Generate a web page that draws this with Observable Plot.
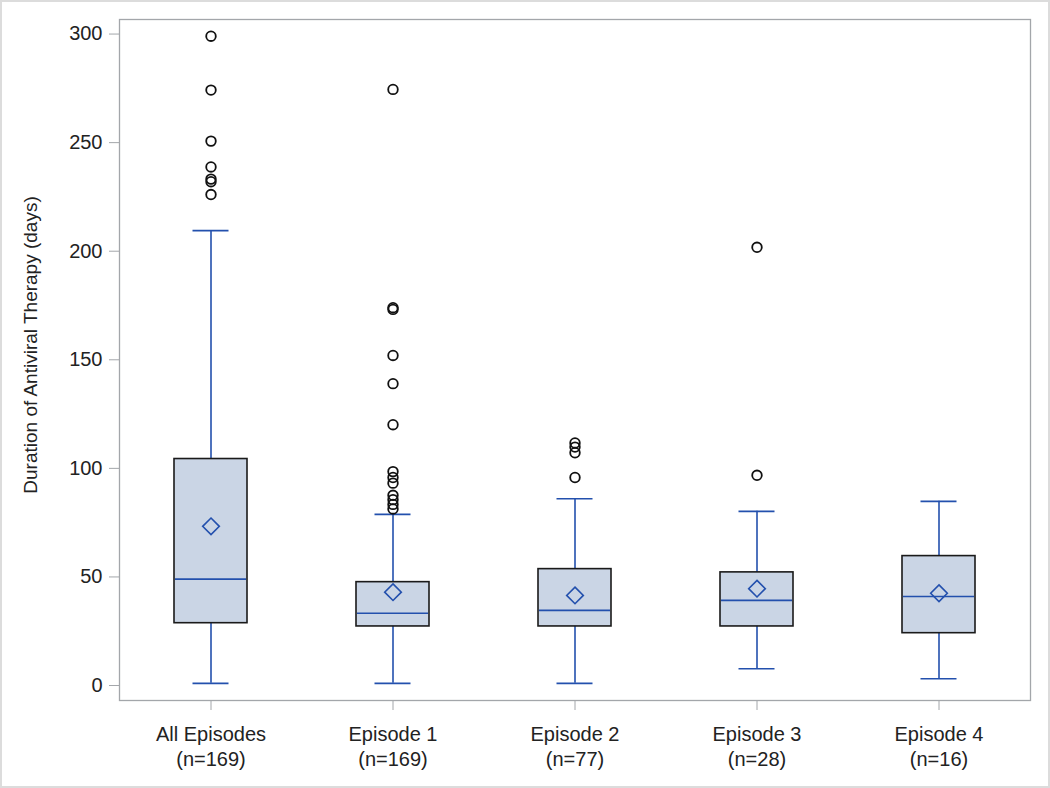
<!DOCTYPE html>
<html>
<head>
<meta charset="utf-8">
<script src="https://cdn.jsdelivr.net/npm/d3@7"></script>
<script src="https://cdn.jsdelivr.net/npm/@observablehq/plot@0.6"></script>
<style>
  html, body { margin: 0; padding: 0; background: #fff; }
  #chart svg { display: block; outline: 2px solid #dcdcdc; outline-offset: -2px; }
</style>
</head>
<body>
<div id="chart"></div>
<script>
const categories = ["All Episodes", "Episode 1", "Episode 2", "Episode 3", "Episode 4"];
const counts = [169, 169, 77, 28, 16];
const q1 = [28.7, 27.2, 27.2, 27.2, 24.1];
const median = [49, 33.3, 34.6, 39.2, 41];
const q3 = [104.3, 47.6, 53.6, 52.1, 59.6];
const mean = [73.3, 43, 41.5, 44.6, 42.5];
const whiskerLow = [1, 1, 1, 7.7, 3.1];
const whiskerHigh = [209.5, 78.8, 86, 80.2, 84.8];
const outliers = [
  [299, 274.2, 250.7, 238.8, 233.2, 232, 226.1],
  [274.5, 174, 173.2, 152, 139, 120.1, 98.5, 95.8, 93.2, 87.6, 85.6, 83.4, 81.3],
  [111.7, 109.8, 107.2, 95.8],
  [201.8, 96.8],
  []
];
const yTicks = [0, 50, 100, 150, 200, 250, 300];

const boxes = categories.map((c, i) => ({
  cat: c, q1: q1[i], med: median[i], q3: q3[i], mean: mean[i],
  lo: whiskerLow[i], hi: whiskerHigh[i]
}));
const outlierPts = categories.flatMap((c, i) => outliers[i].map(v => ({cat: c, v})));
const labelOf = c => c + "\n(n=" + counts[categories.indexOf(c)] + ")";

const blue = "#2350ad";
const gray = "#a3a6aa";
const font = "'Liberation Sans', Arial, sans-serif";

const chart = Plot.plot({
  width: 1050,
  height: 788,
  marginLeft: 119,
  marginRight: 20,
  marginTop: 19,
  marginBottom: 88,
  style: {fontFamily: font, background: "#fff", color: "#222"},
  x: {type: "band", domain: categories, paddingInner: 0.6, paddingOuter: 0.3},
  y: {domain: [-6.9, 306.7], ticks: yTicks},
  marks: [
    Plot.axisY({ticks: yTicks, tickSize: 10, tickPadding: 7, stroke: gray, fill: "#222", fontSize: 20, label: null}),
    Plot.axisX({tickSize: 10, stroke: gray, tickFormat: () => "", label: null}),
    Plot.text(categories, {x: d => d, text: labelOf, frameAnchor: "bottom", lineAnchor: "top", dy: 23, lineHeight: 1.25, fontSize: 20, fill: "#222"}),
    Plot.text(["Duration of Antiviral Therapy (days)"], {frameAnchor: "left", textAnchor: "middle", lineAnchor: "middle", text: d => d, rotate: -90, dx: -89, dy: -15, fontSize: 19, fill: "#222"}),
    Plot.ruleX(boxes, {x: "cat", y1: "lo", y2: "hi", stroke: blue, strokeWidth: 1.6}),
    Plot.tickY(boxes, {x: "cat", y: "lo", stroke: blue, strokeWidth: 1.6, insetLeft: 18.5, insetRight: 18.5}),
    Plot.tickY(boxes, {x: "cat", y: "hi", stroke: blue, strokeWidth: 1.6, insetLeft: 18.5, insetRight: 18.5}),
    Plot.barY(boxes, {x: "cat", y1: "q1", y2: "q3", fill: "#cad5e5", stroke: "#1a1a1a", strokeWidth: 1.6}),
    Plot.tickY(boxes, {x: "cat", y: "med", stroke: blue, strokeWidth: 1.6, insetLeft: 1, insetRight: 1}),
    Plot.dot(boxes, {x: "cat", y: "mean", symbol: "diamond2", r: 7.5, stroke: blue, strokeWidth: 1.6, fill: "none"}),
    Plot.dot(outlierPts, {x: "cat", y: "v", r: 4.8, stroke: "#111", strokeWidth: 1.8, fill: "none"}),
    Plot.frame({stroke: gray, strokeWidth: 1.3})
  ]
});
document.getElementById("chart").appendChild(chart);
</script>
</body>
</html>
